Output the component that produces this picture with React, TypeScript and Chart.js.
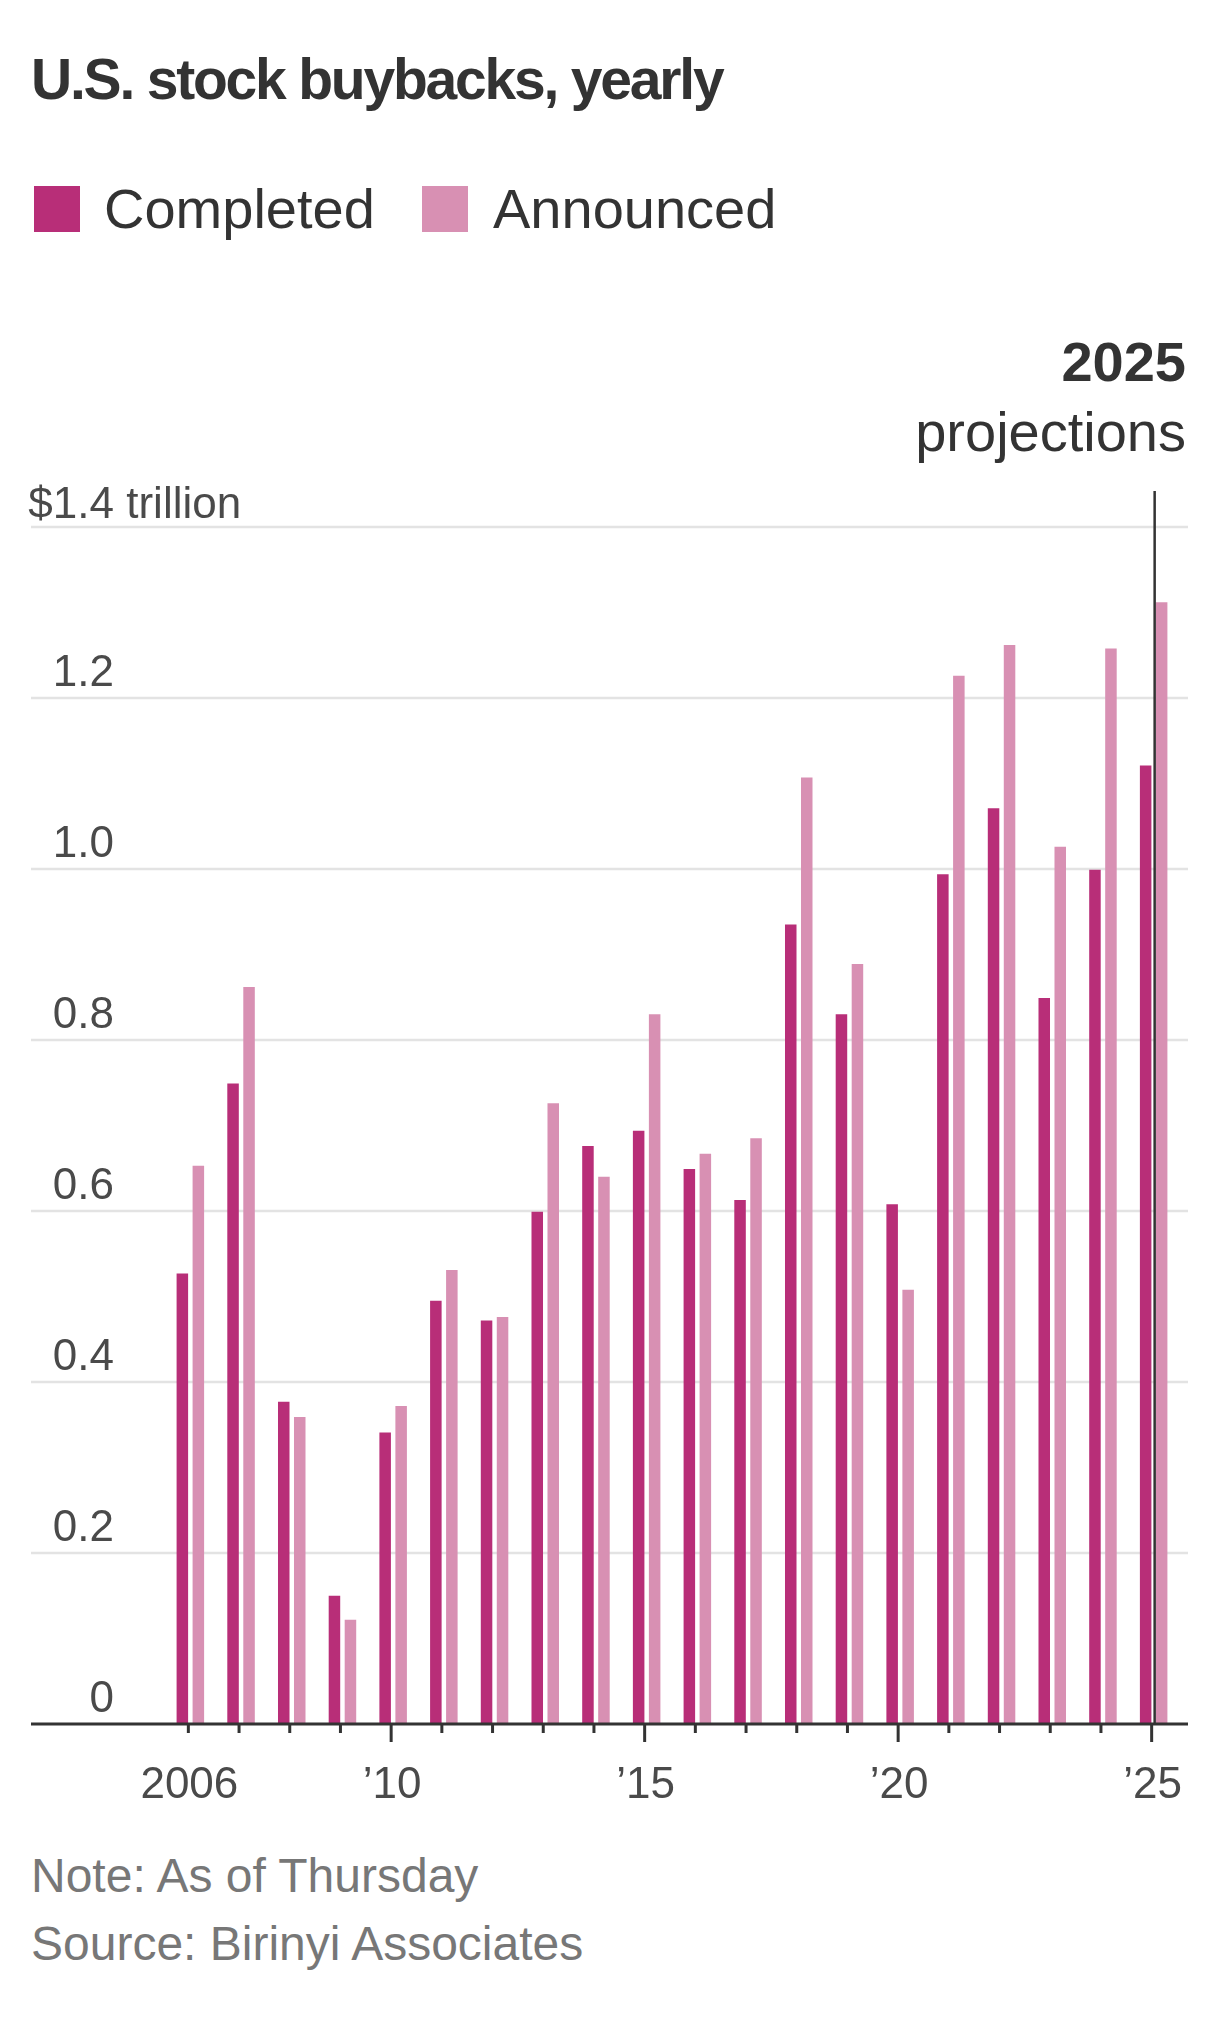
import React, { useEffect, useRef } from 'react';
import { Chart, registerables } from 'chart.js';

Chart.register(...registerables);

// ---- data ----
const years = ['2006', '2007', '2008', '2009', '2010', '2011', '2012', '2013', '2014', '2015', '2016', '2017', '2018', '2019', '2020', '2021', '2022', '2023', '2024', '2025'];
const completed = [0.527, 0.749, 0.377, 0.150, 0.341, 0.495, 0.472, 0.599, 0.676, 0.694, 0.649, 0.613, 0.935, 0.830, 0.608, 0.994, 1.071, 0.849, 0.999, 1.121];
const announced = [0.653, 0.862, 0.359, 0.122, 0.372, 0.531, 0.476, 0.726, 0.640, 0.830, 0.667, 0.685, 1.107, 0.889, 0.508, 1.226, 1.262, 1.026, 1.258, 1.312];
const yTicks = [0, 0.2, 0.4, 0.6, 0.8, 1.0, 1.2, 1.4];
const yTickLabels = ['0', '0.2', '0.4', '0.6', '0.8', '1.0', '1.2', '$1.4'];
const yTopSuffix = ' trillion';
const xLabelYears = ['2006', '2010', '2015', '2020', '2025'];
const xLabels = ['2006', '\u201910', '\u201915', '\u201920', '\u201925'];
const longTickYears = ['2010', '2015', '2020', '2025'];
const projectionYear = '2025';

const COMPLETED_COLOR = '#b82e78';
const ANNOUNCED_COLOR = '#d890b3';
const FONT = '"Liberation Sans", Arial, sans-serif';

const CANVAS_TOP = 300;
const CANVAS_W = 1220;
const CANVAS_H = 1530;
const GRID_LEFT = 31;
const GRID_RIGHT = 1188;
const LABEL_RIGHT = 114;

const axesPlugin = {
  id: 'wsjAxes',
  beforeDatasetsDraw(chart: any) {
    const { ctx } = chart;
    const y = chart.scales.y;
    ctx.save();
    yTicks.forEach((v, i) => {
      const py = y.getPixelForValue(v);
      if (v !== 0) {
        ctx.strokeStyle = '#e3e3e3';
        ctx.lineWidth = 2.5;
        ctx.beginPath();
        ctx.moveTo(GRID_LEFT, py);
        ctx.lineTo(GRID_RIGHT, py);
        ctx.stroke();
      }
      const isTop = i === yTicks.length - 1;
      const off = isTop ? 9 : 12;
      ctx.fillStyle = '#4a4a4a';
      ctx.font = `44px ${FONT}`;
      ctx.textBaseline = 'alphabetic';
      ctx.textAlign = 'right';
      ctx.fillText(yTickLabels[i], LABEL_RIGHT, py - off);
      if (isTop) {
        ctx.textAlign = 'left';
        ctx.fillText(yTopSuffix, LABEL_RIGHT, py - off);
      }
    });
    ctx.restore();
  },
  afterDatasetsDraw(chart: any) {
    const { ctx } = chart;
    const x = chart.scales.x;
    const y = chart.scales.y;
    const py0 = y.getPixelForValue(0);
    ctx.save();
    // projection marker line
    const pIdx = years.indexOf(projectionYear);
    const lx = x.getPixelForValue(pIdx) + 1;
    ctx.strokeStyle = '#333333';
    ctx.lineWidth = 2.5;
    ctx.beginPath();
    ctx.moveTo(lx, 491 - CANVAS_TOP);
    ctx.lineTo(lx, py0);
    ctx.stroke();
    // axis line
    ctx.strokeStyle = '#333333';
    ctx.lineWidth = 3;
    ctx.beginPath();
    ctx.moveTo(GRID_LEFT, py0);
    ctx.lineTo(GRID_RIGHT, py0);
    ctx.stroke();
    // ticks
    years.forEach((yr, i) => {
      const px = x.getPixelForValue(i) - 2;
      const len = longTickYears.includes(yr) ? 18 : 9;
      ctx.lineWidth = 3;
      ctx.beginPath();
      ctx.moveTo(px, py0);
      ctx.lineTo(px, py0 + len);
      ctx.stroke();
    });
    // labels
    ctx.fillStyle = '#4a4a4a';
    ctx.font = `44px ${FONT}`;
    ctx.textAlign = 'center';
    ctx.textBaseline = 'alphabetic';
    xLabelYears.forEach((yr, k) => {
      const i = years.indexOf(yr);
      const px = x.getPixelForValue(i) - 1;
      ctx.fillText(xLabels[k], px, 1798 - CANVAS_TOP);
    });
    ctx.restore();
  },
};

export default function App() {
  const ref = useRef<HTMLCanvasElement | null>(null);

  useEffect(() => {
    document.body.style.margin = '0';
    if (!ref.current) return;
    const chart = new Chart(ref.current, {
      type: 'bar',
      data: {
        labels: years,
        datasets: [
          {
            label: 'Completed',
            data: completed,
            backgroundColor: COMPLETED_COLOR,
            borderWidth: 0,
            categoryPercentage: 0.631,
            barPercentage: 0.72,
          },
          {
            label: 'Announced',
            data: announced,
            backgroundColor: ANNOUNCED_COLOR,
            borderWidth: 0,
            categoryPercentage: 0.631,
            barPercentage: 0.72,
          },
        ],
      },
      options: {
        responsive: false,
        maintainAspectRatio: false,
        animation: false,
        devicePixelRatio: 1,
        layout: { padding: { left: 165, right: 41, top: 227, bottom: 106 } },
        scales: {
          x: { display: false, offset: true },
          y: { display: false, min: 0, max: 1.4 },
        },
        plugins: {
          legend: { display: false },
          tooltip: { enabled: false },
        },
      },
      plugins: [axesPlugin],
    });
    return () => chart.destroy();
  }, []);

  const text = (style: React.CSSProperties, content: string) => (
    <div style={{ position: 'absolute', whiteSpace: 'nowrap', lineHeight: 1, fontFamily: FONT, ...style }}>{content}</div>
  );

  return (
    <div style={{ position: 'absolute', left: 0, top: 0, width: 1220, height: 2040, background: '#ffffff', overflow: 'hidden' }}>
      {text({ left: 31, top: 51, fontSize: 57, fontWeight: 700, color: '#333333', letterSpacing: -2.2 }, 'U.S. stock buybacks, yearly')}
      <div style={{ position: 'absolute', left: 34, top: 186, width: 46, height: 46, background: COMPLETED_COLOR }} />
      {text({ left: 104, top: 181, fontSize: 56, color: '#333333' }, 'Completed')}
      <div style={{ position: 'absolute', left: 422, top: 186, width: 46, height: 46, background: ANNOUNCED_COLOR }} />
      {text({ left: 493, top: 181, fontSize: 56, color: '#333333' }, 'Announced')}
      {text({ right: 34, top: 334, fontSize: 56, fontWeight: 700, color: '#333333', textAlign: 'right' }, '2025')}
      {text({ right: 34, top: 404, fontSize: 56, color: '#333333', textAlign: 'right' }, 'projections')}
      <canvas ref={ref} width={CANVAS_W} height={CANVAS_H} style={{ position: 'absolute', left: 0, top: CANVAS_TOP, width: CANVAS_W, height: CANVAS_H }} />
      {text({ left: 31, top: 1852, fontSize: 48, color: '#777777' }, 'Note: As of Thursday')}
      {text({ left: 31, top: 1920, fontSize: 48, color: '#777777' }, 'Source: Birinyi Associates')}
    </div>
  );
}
